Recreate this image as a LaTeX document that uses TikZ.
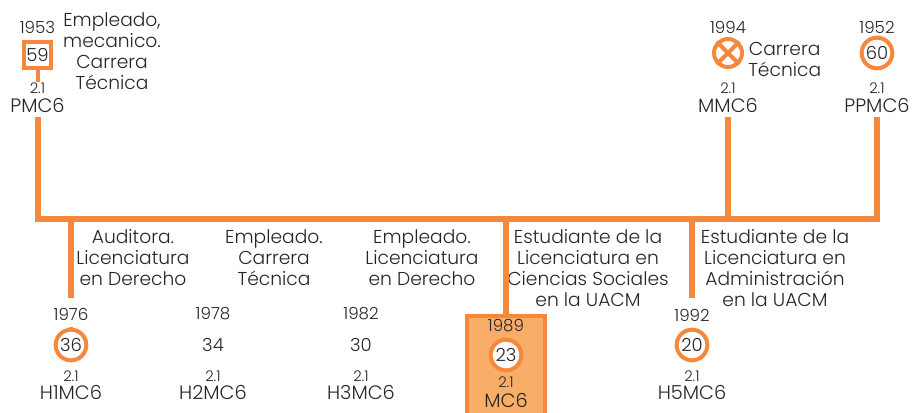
\documentclass[tikz,border=0pt]{standalone}
\usepackage{fontspec}
\setmainfont{Poppins}[UprightFont=* Light]
\definecolor{orng}{HTML}{F5883C}
\definecolor{orngfill}{HTML}{F9AE68}
\definecolor{txt}{HTML}{262626}
\tikzset{
  bar/.style={draw=orng, line width=4.5pt, line join=miter, line cap=butt},
  ring/.style={circle, draw=orng, line width=3pt, minimum size=23pt, inner sep=0pt, fill=white},
  sqbox/.style={rectangle, draw=orng, line width=3pt, minimum size=20pt, inner sep=0pt, fill=white},
  lbl/.style={align=center, font=\fontsize{14}{15.75}\selectfont, inner sep=0pt},
  code/.style={font=\fontsize{14.5}{15}\selectfont, inner sep=0pt},
  ver/.style={font=\fontsize{11}{12}\selectfont, inner sep=0pt},
  yr/.style={font=\fontsize{12.5}{13}\selectfont, inner xsep=1pt, inner ysep=5pt},
  num/.style={font=\fontsize{13.5}{14}\selectfont},
}
\begin{document}
\begin{tikzpicture}[x=0.75pt,y=-0.75pt, text=txt]
\useasboundingbox (0,0) rectangle (917,412);
\clip (0,0) rectangle (917,412);
% ---- top left: 1953
\node[yr] (y1953) at (37.5,27) {1953};
\node[sqbox, num] (b59) at (37.5,55) {59};
\node[ver] (v1) at (37.5,88) {2.1};
\node[code, inner ysep=2pt] (pmc) at (37.5,105) {PMC6};
\node[lbl] (l1) at (112,51) {Empleado,\\mecanico.\\Carrera\\Técnica};
% ---- top: 1994
\node[yr] (y1994) at (728,27) {1994};
\node[circle, draw=orng, line width=3pt, minimum size=21pt, inner sep=0pt] (xc) at (728,53) {};
\draw[orng, line width=3pt] (xc.north west) -- (xc.south east) (xc.north east) -- (xc.south west);
\node[lbl, anchor=west] (l2) at (748,59) {Carrera\\Técnica};
\node[ver] (v2) at (728,88) {2.1};
\node[code, inner ysep=2pt] (mmc) at (728,105) {MMC6};
% ---- top: 1952
\node[yr] (y1952) at (877,27) {1952};
\node[ring, num] (c60) at (877,53) {60};
\node[ver] (v3) at (877,88) {2.1};
\node[code, inner ysep=2pt] (ppmc) at (877,105) {PPMC6};
% ---- bar
\coordinate (bL) at (37.5,219);
\coordinate (bR) at (877,219);
\coordinate (bM) at (728,219);
\coordinate (d1) at (71,219);
\coordinate (d2) at (506,219);
\coordinate (d3) at (692,219);
\draw[bar] (pmc.south |- 0,117) -- (bL) -- (bR) -- (ppmc.south |- 0,117);
\draw[bar] (mmc.south |- 0,117) -- (bM);
\draw[orng, line width=3pt] (b59.south) -- (v1.north);
% ---- middle labels
\node[lbl] (m1) at (133,258) {Auditora.\\Licenciatura\\en Derecho};
\node[lbl] (m2) at (274,258) {Empleado.\\Carrera\\Técnica};
\node[lbl] (m3) at (422,258) {Empleado.\\Licenciatura\\en Derecho};
\node[lbl] (m4) at (588,268) {Estudiante de la\\Licenciatura en\\Ciencias Sociales\\en la UACM};
\node[lbl] (m5) at (775,268) {Estudiante de la\\Licenciatura en\\Administración\\en la UACM};
% ---- bottom: 1976
\node[yr] (y1976) at (71,314) {1976};
\node[ring, num] (c36) at (71,345) {36};
\node[ver] (v4) at (71,376) {2.1};
\node[code] (h1) at (71,392) {H1MC6};
\draw[bar] (d1) -- (71,298);
\draw[orng, line width=3pt] (y1976.south) -- (c36.north);
% ---- 1978
\node[yr] (y1978) at (213,314) {1978};
\node[num] (n34) at (213,345) {34};
\node[ver] (v5) at (213,376) {2.1};
\node[code] (h2) at (213,392) {H2MC6};
% ---- 1982
\node[yr] (y1982) at (361,314) {1982};
\node[num] (n30) at (361,345) {30};
\node[ver] (v6) at (361,376) {2.1};
\node[code] (h3) at (361,392) {H3MC6};
% ---- 1989 box
\node[draw=orng, fill=orngfill, line width=3pt, minimum width=58pt, minimum height=80pt, anchor=north, inner sep=0pt] (box) at (506,313.5) {};
\draw[bar] (d2) -- (box.north);
\node[yr, inner ysep=0pt] (y1989) at (506,326) {1989};
\node[ring, num] (c23) at (506,355) {23};
\node[ver] (v7) at (506,382) {2.1};
\node[code] (mc) at (506,400) {MC6};
% ---- 1992
\node[yr] (y1992) at (692,315) {1992};
\node[ring, num] (c20) at (692,345) {20};
\node[ver] (v8) at (692,376) {2.1};
\node[code] (h5) at (692,392) {H5MC6};
\draw[bar] (d3) -- (692,298);
\draw[orng, line width=3pt] (y1992.south) -- (c20.north);
\end{tikzpicture}
\end{document}
